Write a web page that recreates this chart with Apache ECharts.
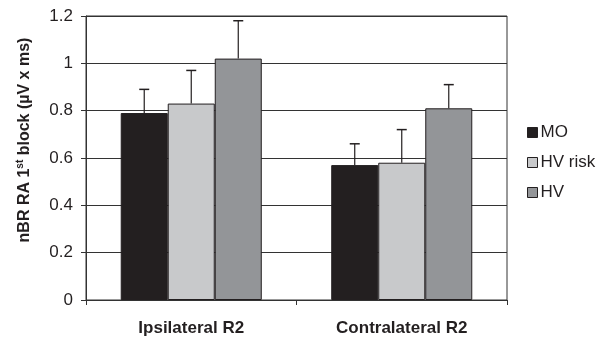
<!DOCTYPE html>
<html><head><meta charset="utf-8">
<script src="https://cdn.jsdelivr.net/npm/echarts@6/dist/echarts.min.js"></script>
<style>html,body{margin:0;padding:0;background:#fff}#c{width:598px;height:337px}</style>
</head><body><div id="c"></div>
<script>
var categories = ['Ipsilateral R2', 'Contralateral R2'];
var seriesNames = ['MO', 'HV risk', 'HV'];
var moValues = [0.79, 0.57];
var hvRiskValues = [0.83, 0.58];
var hvValues = [1.02, 0.81];
var moErr = [0.10, 0.09];
var hvRiskErr = [0.14, 0.14];
var hvErr = [0.16, 0.10];
var yTicks = [0, 0.2, 0.4, 0.6, 0.8, 1, 1.2];

var colors = ['#231f20', '#c8c9cb', '#939598'];
var values = [moValues, hvRiskValues, hvValues];
var errs = [moErr, hvRiskErr, hvErr];
var chart = echarts.init(document.getElementById('c'));
var font = 'Liberation Sans, Arial, sans-serif';

var series = [];
values.forEach(function (v, i) {
  series.push({
    name: seriesNames[i], type: 'bar', data: v,
    barGap: '0%', barCategoryGap: '33%',
    itemStyle: { color: colors[i], borderColor: '#231f20', borderWidth: 1 },
    emphasis: { disabled: true }, z: 2
  });
});
values.forEach(function (v, i) {
  series.push({
    type: 'custom', silent: true, z: 3,
    data: v.map(function (val, k) { return [k, val, val + errs[i][k]]; }),
    renderItem: function (params, api) {
      var base = api.coord([api.value(0), api.value(1)]);
      var top = api.coord([api.value(0), api.value(2)]);
      var bw = api.size([1, 0])[0] * 0.67 / 3;
      var x = base[0] + (i - 1) * bw;
      return { type: 'group', children: [
        { type: 'line', shape: { x1: x, y1: base[1], x2: x, y2: top[1] }, style: { stroke: '#231f20', lineWidth: 1.2 } },
        { type: 'line', shape: { x1: x - 5, y1: top[1], x2: x + 5, y2: top[1] }, style: { stroke: '#231f20', lineWidth: 1.5 } }
      ]};
    }
  });
});

chart.setOption({
  animation: false,
  grid: { left: 86, right: 91, top: 16, bottom: 37, show: true, borderColor: '#333', borderWidth: 1 },
  legend: {
    orient: 'vertical', left: 522, top: 119, itemWidth: 10, itemHeight: 10, itemGap: 13,
    icon: 'rect', data: seriesNames,
    textStyle: { fontFamily: font, fontSize: 17, color: '#231f20', padding: [0, 0, 0, -2] },
    itemStyle: { borderColor: '#231f20', borderWidth: 1 }
  },
  xAxis: {
    type: 'category', data: categories,
    axisLine: { lineStyle: { color: '#333' } },
    axisTick: { show: true, length: 5, lineStyle: { color: '#333' } },
    axisLabel: { fontFamily: font, fontWeight: 'bold', fontSize: 17, color: '#231f20', margin: 20 }
  },
  yAxis: {
    type: 'value', min: 0, max: 1.2, interval: 0.2,
    axisLine: { show: true, lineStyle: { color: '#333' } },
    axisTick: { show: true, length: 5, lineStyle: { color: '#333' } },
    splitLine: { lineStyle: { color: '#333', width: 1 } },
    axisLabel: { fontFamily: font, fontSize: 17, color: '#231f20', margin: 13,
      formatter: function (v) { return String(Math.round(v * 10) / 10); } }
  },
  graphic: [{
    type: 'text', x: 25, y: 140, rotation: Math.PI / 2,
    style: {
      text: '{a|nBR RA 1}{s|st}{a| block (µV x ms)}',
      align: 'center', verticalAlign: 'middle',
      rich: {
        a: { fontFamily: font, fontWeight: 'bold', fontSize: 16, fill: '#231f20' },
        s: { fontFamily: font, fontWeight: 'bold', fontSize: 10, fill: '#231f20', verticalAlign: 'top', padding: [0, 0, 9, 0] }
      }
    }
  }],
  series: series
});
</script></body></html>
